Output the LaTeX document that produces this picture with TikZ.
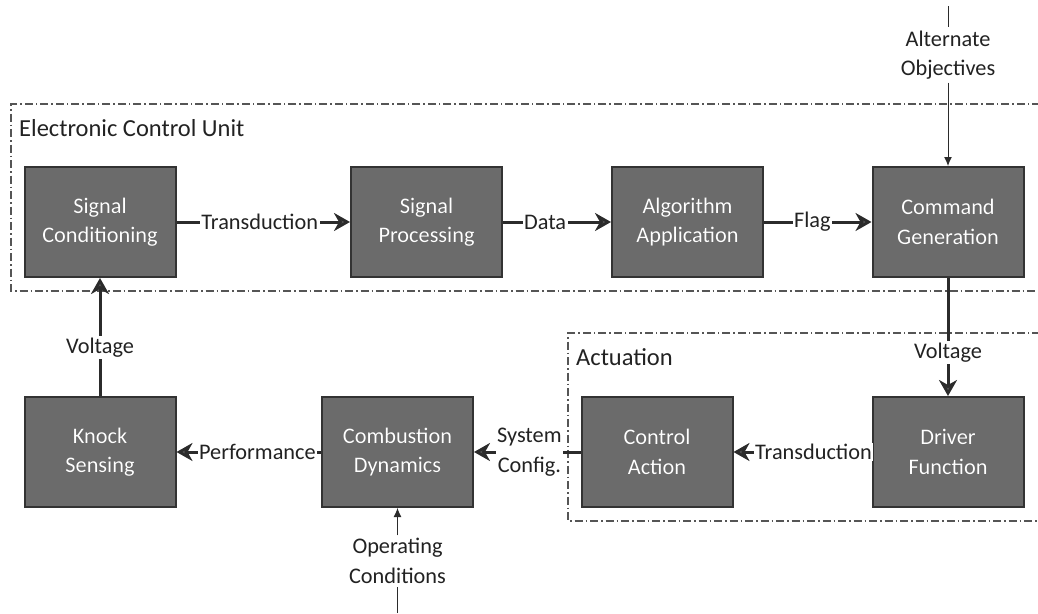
\documentclass[tikz,border=0pt]{standalone}
\usepackage{fontspec}
\setmainfont{Carlito}
\usepackage[outline]{contour}
\contourlength{0.9pt}
\usetikzlibrary{arrows.meta}
\definecolor{boxfill}{HTML}{6B6B6B}
\definecolor{boxline}{HTML}{333333}
\definecolor{conn}{HTML}{2B2B2B}
\definecolor{grp}{HTML}{555555}
\definecolor{txt}{HTML}{222222}
\definecolor{halo}{HTML}{3A3A3A}
\newcommand{\bt}[1]{\contour{halo}{#1}}
\begin{document}
\begin{tikzpicture}[x=1pt,y=-1pt,
  font=\fontsize{22.3}{29.5}\selectfont,
  block/.style={draw=boxline, line width=2pt, fill=boxfill, minimum width=151pt, minimum height=110pt, text=white, align=center, inner sep=0pt},
  flow/.style={draw=conn, line width=3pt, -{Stealth[length=16pt,width=18pt,inset=5pt,fill=conn!80]}},
  thinflow/.style={draw=conn, line width=1pt, -{Latex[length=9pt,width=8pt]}},
  thinline/.style={draw=conn, line width=1pt},
  lab/.style={fill=white, inner sep=1.5pt, text=txt, align=center},
  grplabel/.style={text=txt, anchor=west, inner sep=0pt, font=\fontsize{24.5}{29}\selectfont},
  grpbox/.style={draw=grp, line width=1.2pt, dash pattern=on 8pt off 3pt on 1.5pt off 3pt}
]
\useasboundingbox (0,0) rectangle (1038,613);
% groups
\draw[grpbox] (1040,104) -- (11,104) -- (11,291) -- (1040,291);
\draw[grpbox] (1040,333) -- (568,333) -- (568,521) -- (1040,521);
\node[grplabel] (ecu) at (19,128) {Electronic Control Unit};
\node[grplabel] (act) at (576,357) {Actuation};
% blocks
\node[block] (SC) at (100,222) {\bt{Signal}\\\bt{Conditioning}};
\node[block] (SP) at (426.5,222) {\bt{Signal}\\\bt{Processing}};
\node[block] (AA) at (687.5,222) {\bt{Algorithm}\\\bt{Application}};
\node[block] (CG) at (948,222) {\bt{Command}\\\bt{Generation}};
\node[block] (KS) at (100,452) {\bt{Knock}\\\bt{Sensing}};
\node[block] (CD) at (397.5,452) {\bt{Combustion}\\\bt{Dynamics}};
\node[block] (CA) at (657,452) {\bt{Control}\\\bt{Action}};
\node[block] (DF) at (948,452) {\bt{Driver}\\\bt{Function}};
% flows
\draw[flow] (SC) -- node[lab,pos=0.48]{Transduction} (SP);
\draw[flow] (SP) -- node[lab,pos=0.39]{Data} (AA);
\draw[flow] (AA) -- node[lab,pos=0.45]{Flag} (CG);
\draw[flow] (CG) -- node[lab,pos=0.63]{Voltage} (DF);
\draw[flow] (DF) -- node[lab,pos=0.42]{Transduction} (CA);
\draw[flow] (CA) -- node[lab,pos=0.48]{System\\Config.} (CD);
\draw[flow] (CD) -- node[lab,pos=0.44]{Performance} (KS);
\draw[flow] (KS) -- node[lab,pos=0.41]{Voltage} (SC);
% external inputs
\coordinate (alttop) at (948,6);
\node[lab,inner sep=3pt] (alt) at (948,55) {Alternate\\Objectives};
\draw[thinline] (alttop) -- (alt);
\draw[thinflow] (alt) -- (CG);
\coordinate (opbot) at (397.5,613);
\node[lab,inner sep=3pt] (op) at (397.5,561) {Operating\\Conditions};
\draw[thinline] (opbot) -- (op);
\draw[thinflow] (op) -- (CD);
\end{tikzpicture}
\end{document}
